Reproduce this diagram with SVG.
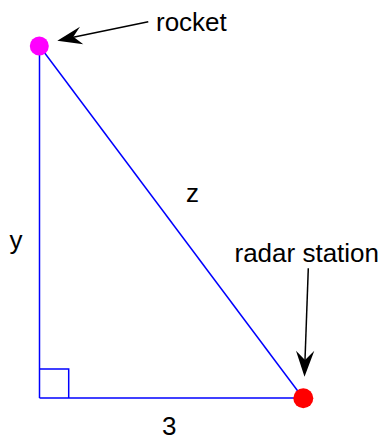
<svg xmlns="http://www.w3.org/2000/svg" width="383" height="437" viewBox="0 0 383 437">
<style>
.edge{stroke:#0000ff;stroke-width:1.5;fill:none}
.lbl{font-family:"Liberation Sans",Arial,sans-serif;font-size:26px;fill:#000}
.ptr{stroke:#000;stroke-width:1.5;fill:none}
.head{fill:#000}
</style>
<rect width="383" height="437" fill="#fff"/>
<g id="connectors">
<line class="edge" x1="39.5" y1="46" x2="39.5" y2="398"/>
<line class="edge" x1="39.5" y1="398" x2="303" y2="398"/>
<line class="edge" x1="39.5" y1="46" x2="303" y2="398"/>
<path class="edge" d="M39.5 369 H68.7 V398"/>
<line class="ptr" x1="148.3" y1="21.7" x2="72" y2="37.5"/>
<path class="head" d="M57.3 40.7 L80 26.7 L73.3 36.7 L83.3 44.3 Z"/>
<line class="ptr" x1="308.3" y1="268.3" x2="305" y2="360"/>
<path class="head" d="M304.5 376.7 L296 350.7 L305 360 L314.3 350.7 Z"/>
</g>
<g id="rocket">
<circle cx="39.3" cy="46" r="9.5" fill="#ff00ff"/>
<text class="lbl" x="156" y="31">rocket</text>
</g>
<g id="radar">
<circle cx="303.3" cy="398.3" r="10" fill="#ff0000"/>
<text class="lbl" x="234.5" y="262">radar station</text>
</g>
<g id="labels">
<text class="lbl" x="186" y="202">z</text>
<text class="lbl" x="9.5" y="249">y</text>
<text class="lbl" x="162" y="435">3</text>
</g>
</svg>
